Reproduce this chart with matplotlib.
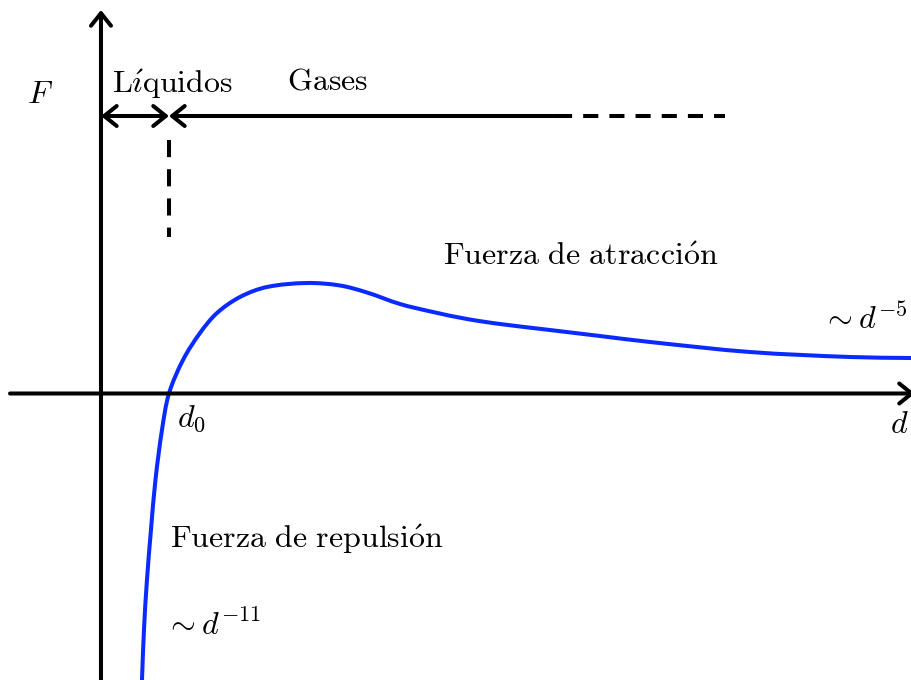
import numpy as np
import matplotlib
matplotlib.use("Agg")
import matplotlib.pyplot as plt
from matplotlib.path import Path
from matplotlib.patches import PathPatch

plt.rcParams['mathtext.fontset'] = 'cm'

# ---- data (d in units of d0, F in arbitrary units) ----
d_vals = [0.603, 0.632, 0.676, 0.735, 0.801, 0.897, 1.000, 1.206, 1.456,
          1.706, 2.044, 2.441, 3.029, 3.515, 3.912, 4.397, 4.882, 5.382, 5.868,
          6.603, 7.338, 8.074, 9.544, 11.015, 11.912]
F_vals = [-2.865, -2.365, -1.865, -1.365, -0.865, -0.365, 0.000, 0.335, 0.605,
          0.805, 0.965, 1.065, 1.105, 1.080, 1.010, 0.895, 0.815, 0.745, 0.695,
          0.635, 0.575, 0.515, 0.415, 0.365, 0.355]
d0 = 1.0
F_level = 2.775          # level of the Líquidos / Gases arrows
gas_solid_end = 6.75
gas_dash_end = 9.176

labels = {
    'F': r'$F$',
    'liq': r'$\mathrm{L\acute{\imath}quidos}$',
    'gas': r'$\mathrm{Gases}$',
    'atr': r'$\mathrm{Fuerza\ de\ atracci\acute{o}n}$',
    'rep': r'$\mathrm{Fuerza\ de\ repulsi\acute{o}n}$',
    'd5': r'$\sim d^{-5}$',
    'd11': r'$\sim d^{-11}$',
    'd0': r'$d_0$',
    'd': r'$d$',
}

fig = plt.figure(figsize=(9.11, 6.8), dpi=100)
ax = fig.add_axes([0, 0, 1, 1])
ax.set_xlim(-1.485, 11.912)
ax.set_ylim(-2.865, 3.935)
ax.axis('off')

LW = 2.9
head = dict(arrowstyle='->,head_length=0.45,head_width=0.36', lw=LW, color='black',
            shrinkA=0, shrinkB=0, mutation_scale=20)
dhead = dict(head, arrowstyle='<->,head_length=0.45,head_width=0.36')

# axes
ax.annotate('', xy=(0, 3.835), xytext=(0, -2.9), arrowprops=head, annotation_clip=False)
ax.annotate('', xy=(11.97, 0), xytext=(-1.338, 0), arrowprops=head, annotation_clip=False)

# Líquidos / Gases arrows
ax.annotate('', xy=(d0, F_level), xytext=(0, F_level), arrowprops=dhead, annotation_clip=False)
ax.annotate('', xy=(d0, F_level), xytext=(gas_solid_end, F_level), arrowprops=head,
            annotation_clip=False)
ax.plot([gas_solid_end - 0.05, gas_dash_end], [F_level, F_level], color='black',
        lw=LW, dashes=(3.75, 2.75), solid_capstyle='butt', dash_capstyle='butt')
ax.plot([d0, d0], [2.535, 1.565], color='black', lw=LW, dashes=(4.25, 3.0),
        dash_capstyle='butt')

# smooth curve through the data points (cubic Hermite, chord parametrised)
P = np.column_stack([d_vals, F_vals])
Q = ax.transData.transform(P)
t = np.concatenate([[0], np.cumsum(np.hypot(*np.diff(Q, axis=0).T))])
n = len(P)
T = np.zeros_like(P)
for i in range(n):
    a, b = max(i - 1, 0), min(i + 1, n - 1)
    T[i] = (P[b] - P[a]) / (t[b] - t[a])
verts = [P[0]]
codes = [Path.MOVETO]
for i in range(n - 1):
    h = t[i + 1] - t[i]
    verts += [P[i] + T[i] * h / 3, P[i + 1] - T[i + 1] * h / 3, P[i + 1]]
    codes += [Path.CURVE4] * 3
ax.add_patch(PathPatch(Path(verts, codes), fill=False, edgecolor='#0a2bff', lw=2.9,
                       capstyle='round', joinstyle='round'))

fs = 23
kw = dict(fontsize=fs, ha='left', va='baseline')
ax.text(-1.088, 2.905, labels['F'], **kw)
ax.text(0.162, 3.005, labels['liq'], **kw)
ax.text(2.735, 3.045, labels['gas'], **kw)
ax.text(9.074, 1.285, labels['atr'], fontsize=fs, ha='right', va='baseline')
ax.text(10.60, 0.635, labels['d5'], **kw)
ax.text(1.118, -0.335, labels['d0'], **kw)
ax.text(11.60, -0.395, labels['d'], **kw)
ax.text(1.015, -1.545, labels['rep'], **kw)
ax.text(0.941, -2.415, labels['d11'], **kw)

fig.savefig('out.png', dpi=100)
